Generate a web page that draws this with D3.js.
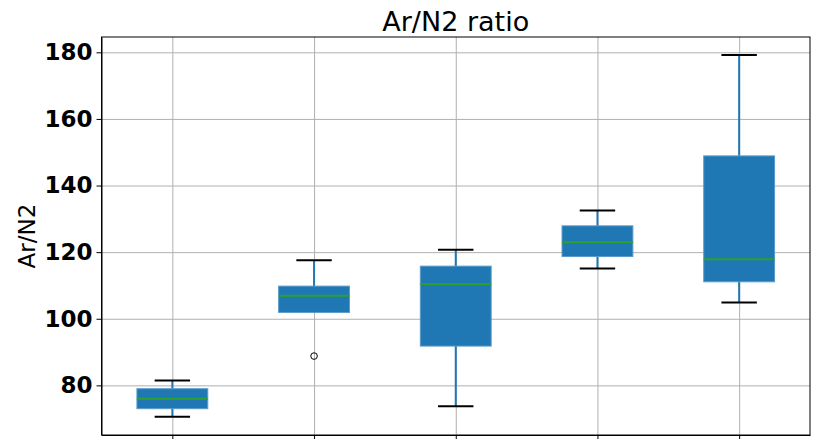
<!DOCTYPE html>
<html>
<head>
<meta charset="utf-8">
<script src="https://cdn.jsdelivr.net/npm/d3@7"></script>
<style>
  body { margin: 0; background: white; }
  svg { display: block; font-family: "DejaVu Sans", sans-serif; }
</style>
</head>
<body>
<svg width="817" height="439"></svg>
<script>
// Box statistics
var groups = [1, 2, 3, 4, 5];
var whiskerLow = [70.6, 101.9, 73.7, 115.1, 104.9];
var q1 = [73.0, 101.9, 91.8, 118.7, 111.1];
var median = [76.0, 106.9, 110.4, 123.0, 117.9];
var q3 = [79.0, 109.8, 115.8, 127.9, 148.9];
var whiskerHigh = [81.5, 117.6, 120.7, 132.5, 179.2];
var outliers = [[], [88.8], [], [], []];
var yTicks = [80, 100, 120, 140, 160, 180];

var margin = { top: 37, right: 7, bottom: 4, left: 101.5 };
var width = 817 - margin.left - margin.right;
var height = 439 - margin.top - margin.bottom;

var svg = d3.select("svg")
  .append("g")
  .attr("transform", "translate(" + margin.left + "," + margin.top + ")");

var xScale = d3.scaleLinear().domain([0.5, 5.5]).range([0, width]);
var yScale = d3.scaleLinear().domain([65.1, 184.6]).range([height, 0]);

// Gridlines
svg.append("g")
  .attr("class", "grid")
  .call(d3.axisLeft(yScale).tickValues(yTicks).tickSize(-width).tickFormat(""))
  .call(function(g) { g.select(".domain").remove(); })
  .selectAll(".tick line")
  .style("stroke", "#b0b0b0")
  .style("stroke-width", "1px");

svg.append("g")
  .attr("class", "grid")
  .attr("transform", "translate(0," + height + ")")
  .call(d3.axisBottom(xScale).tickValues(groups).tickSize(-height).tickFormat(""))
  .call(function(g) { g.select(".domain").remove(); })
  .selectAll(".tick line")
  .style("stroke", "#b0b0b0")
  .style("stroke-width", "1px");

var data = groups.map(function(g, i) {
  return { g: g, lo: whiskerLow[i], q1: q1[i], med: median[i], q3: q3[i], hi: whiskerHigh[i], out: outliers[i] };
});

var boxW = xScale(1.25) - xScale(1);
var capW = xScale(1.125) - xScale(1);

var box = svg.selectAll(".box").data(data).enter().append("g").attr("class", "box");

// Whiskers
box.append("line")
  .attr("x1", function(d) { return xScale(d.g); })
  .attr("x2", function(d) { return xScale(d.g); })
  .attr("y1", function(d) { return yScale(d.lo); })
  .attr("y2", function(d) { return yScale(d.hi); })
  .attr("stroke", "#1f77b4")
  .attr("stroke-width", 2);

// Boxes
box.append("rect")
  .attr("x", function(d) { return xScale(d.g) - boxW; })
  .attr("y", function(d) { return yScale(d.q3); })
  .attr("width", boxW * 2)
  .attr("height", function(d) { return yScale(d.q1) - yScale(d.q3); })
  .attr("fill", "#1f77b4")
  .attr("stroke", "#5a9bcb")
  .attr("stroke-width", 1);

// Medians
box.append("line")
  .attr("x1", function(d) { return xScale(d.g) - boxW; })
  .attr("x2", function(d) { return xScale(d.g) + boxW; })
  .attr("y1", function(d) { return yScale(d.med); })
  .attr("y2", function(d) { return yScale(d.med); })
  .attr("stroke", "#2ca02c")
  .attr("stroke-width", 2);

// Caps
["lo", "hi"].forEach(function(k) {
  box.filter(function(d) { return d[k] !== d.q1 || k === "hi"; })
    .append("line")
    .attr("x1", function(d) { return xScale(d.g) - capW; })
    .attr("x2", function(d) { return xScale(d.g) + capW; })
    .attr("y1", function(d) { return yScale(d[k]); })
    .attr("y2", function(d) { return yScale(d[k]); })
    .attr("stroke", "black")
    .attr("stroke-width", 2);
});

// Outliers
box.selectAll(".flier")
  .data(function(d) { return d.out.map(function(v) { return { g: d.g, v: v }; }); })
  .enter()
  .append("circle")
  .attr("cx", function(d) { return xScale(d.g); })
  .attr("cy", function(d) { return yScale(d.v); })
  .attr("r", 3.3)
  .attr("fill", "none")
  .attr("stroke", "black")
  .attr("stroke-width", 1);

// Axes
var yAxis = svg.append("g")
  .call(d3.axisLeft(yScale).tickValues(yTicks).tickSize(5).tickPadding(4).tickSizeOuter(0));
yAxis.selectAll("text")
  .style("fill", "black")
  .style("font-size", "23px")
  .style("font-weight", "bold")
  .style("font-family", "DejaVu Sans");

svg.append("g")
  .attr("transform", "translate(0," + height + ")")
  .call(d3.axisBottom(xScale).tickValues(groups).tickSize(5).tickFormat("").tickSizeOuter(0));

svg.selectAll(".domain").attr("stroke", "black");

// Frame
svg.append("rect")
  .attr("width", width)
  .attr("height", height)
  .attr("fill", "none")
  .attr("stroke", "black")
  .attr("stroke-width", 1);

// Title
svg.append("text")
  .attr("x", width / 2)
  .attr("y", -6)
  .attr("text-anchor", "middle")
  .style("font-size", "27px")
  .text("Ar/N2 ratio");

// Y label
svg.append("text")
  .attr("transform", "translate(" + (-67) + "," + (height / 2) + ") rotate(-90)")
  .attr("text-anchor", "middle")
  .style("font-size", "23px")
  .text("Ar/N2");
</script>
</body>
</html>
